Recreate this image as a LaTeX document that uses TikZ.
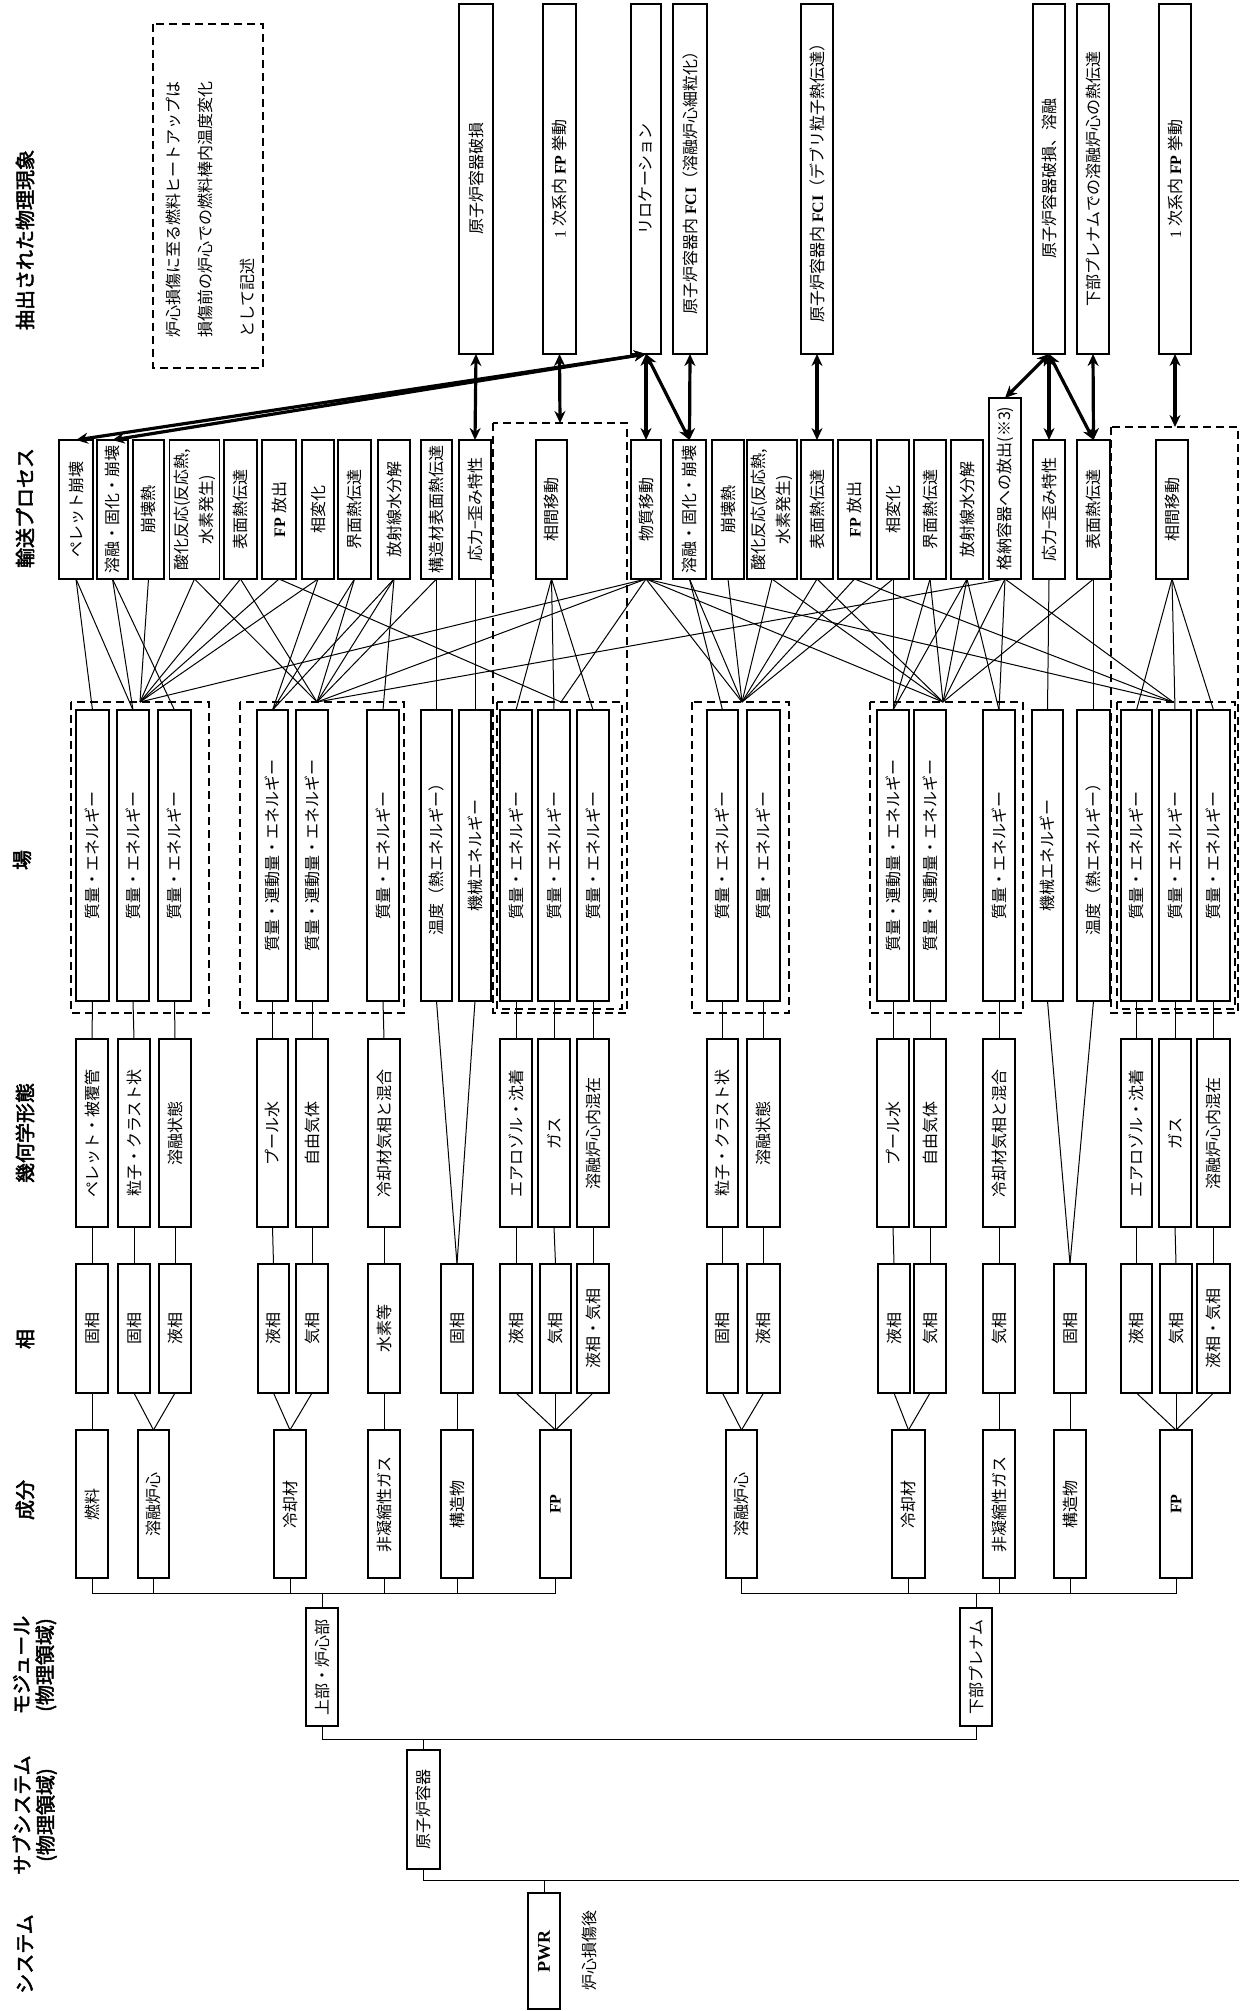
\documentclass[tikz,border=0pt]{standalone}
\usepackage{fontspec}
\setmainfont{Noto Sans CJK JP}[AutoFakeBold=2.5]
\newfontfamily\lat{Liberation Serif}
\usepackage{graphicx}
\usetikzlibrary{arrows.meta}
\newcommand\bx[6]{\node[bx, minimum width={(#3-#2)*0.5pt}, minimum height={(#5-#4)*0.5pt}] (#1) at ({(#2+#3)/2},{(#4+#5)/2}) {\rotatebox{90}{#6}};}
\newcommand\two[2]{\begin{tabular}{@{}c@{}}#1\\#2\end{tabular}}
\newcommand\LB[1]{{\lat\bfseries #1}}
\begin{document}
\begin{tikzpicture}[x=0.5pt,y=-0.5pt,
 bx/.style={draw, line width=0.6pt, inner sep=0pt, outer sep=0pt, fill=white, font=\fontsize{8}{12.5}\selectfont},
 hd/.style={inner sep=0pt, font=\fontsize{10}{11}\selectfont\bfseries},
 txt/.style={inner sep=0pt, font=\fontsize{8}{10}\selectfont},
 ln/.style={line width=0.5pt},
 arr/.style={line width=1.6pt, {Stealth[length=6pt,width=5.5pt]}-{Stealth[length=6pt,width=5.5pt]}},
 grp/.style={draw, line width=0.75pt, dash pattern=on 4pt off 2.5pt}]
\useasboundingbox[fill=white] (0,0) rectangle (1241,2011);

% headers
\node[hd] (h1) at (25,240) {\rotatebox{90}{抽出された物理現象}};
\node[hd] (h2) at (25,508) {\rotatebox{90}{輸送プロセス}};
\node[hd] (h3) at (22,860) {\rotatebox{90}{場}};
\node[hd] (h4) at (25,1133) {\rotatebox{90}{幾何学形態}};
\node[hd] (h5) at (25,1339) {\rotatebox{90}{相}};
\node[hd] (h6) at (25,1500) {\rotatebox{90}{成分}};
\node[hd] (h7) at (36,1665) {\rotatebox{90}{\two{モジュール}{(物理領域)}}};
\node[hd] (h8) at (36,1815) {\rotatebox{90}{\two{サブシステム}{(物理領域)}}};
\node[hd] (h9) at (25,1954) {\rotatebox{90}{システム}};

% note
\draw[grp] (153,24) rectangle (263,368);
\node[txt, anchor=south] (n1) at (173,338) {\rotatebox{90}{炉心損傷に至る燃料ヒートアップは}};
\node[txt, anchor=south] (n2) at (205,338) {\rotatebox{90}{損傷前の炉心での燃料棒内温度変化}};
\node[txt, anchor=south] (n3) at (247,338) {\rotatebox{90}{として記述}};

% dashed groups
\draw[grp] (493,423) rectangle (627,1013);
\draw[grp] (1111,427) rectangle (1238,1013);
\draw[grp] (71,702) rectangle (209,1013);
\draw[grp] (240,702) rectangle (404,1013);
\draw[grp] (497,702) rectangle (622,1009);
\draw[grp] (692,702) rectangle (789,1013);
\draw[grp] (870,702) rectangle (1023,1013);
\draw[grp] (1117,702) rectangle (1235,1009);
\coordinate (gA) at (140,702);
\coordinate (gB) at (317,702);
\coordinate (gC) at (561,702);
\coordinate (gD) at (742,702);
\coordinate (gE) at (943,702);
\coordinate (gF) at (1173,702);
\coordinate (oL) at (560,423);
\coordinate (oR) at (1175,427);

% phenomena
\bx{q1}{459}{493}{4}{354}{原子炉容器破損}
\bx{q2}{543}{576}{4}{354}{{\lat 1} 次系内 \LB{FP} 挙動}
\bx{q3}{631}{661}{4}{354}{リロケーション}
\bx{q4}{673}{707}{4}{354}{原子炉容器内 \LB{FCI}（溶融炉心細粒化）}
\bx{q5}{801}{833}{4}{354}{原子炉容器内 \LB{FCI}（デブリ粒子熱伝達）}
\bx{q6}{1033}{1065}{4}{354}{原子炉容器破損、溶融}
\bx{q7}{1077}{1109}{4}{354}{下部プレナムでの溶融炉心の熱伝達}
\bx{q8}{1159}{1191}{4}{354}{{\lat 1} 次系内 \LB{FP} 挙動}

% processes
\bx{p1}{59}{93}{440}{579}{ペレット崩壊}
\bx{p2}{97}{128}{440}{579}{溶融・固化・崩壊}
\bx{p3}{133}{164}{440}{579}{崩壊熱}
\bx{p4}{171}{218}{440}{579}{\two{酸化反応(反応熱,}{水素発生)}}
\bx{p5}{224}{257}{440}{579}{表面熱伝達}
\bx{p6}{262}{296}{440}{579}{\LB{FP} 放出}
\bx{p7}{302}{334}{440}{579}{相変化}
\bx{p8}{338}{371}{440}{579}{界面熱伝達}
\bx{p9}{378}{410}{440}{579}{放射線水分解}
\bx{p10}{421}{452}{440}{579}{構造材表面熱伝達}
\bx{p11}{459}{491}{440}{579}{応力−歪み特性}
\bx{p12}{536}{567}{440}{579}{相間移動}
\bx{p13}{631}{661}{440}{579}{物質移動}
\bx{p14}{673}{706}{440}{579}{溶融・固化・崩壊}
\bx{p15}{712}{744}{440}{579}{崩壊熱}
\bx{p16}{748}{796}{440}{579}{\two{酸化反応(反応熱,}{水素発生)}}
\bx{p17}{801}{833}{440}{579}{表面熱伝達}
\bx{p18}{838}{871}{440}{579}{\LB{FP} 放出}
\bx{p19}{877}{909}{440}{579}{相変化}
\bx{p20}{914}{946}{440}{579}{界面熱伝達}
\bx{p21}{951}{983}{440}{579}{放射線水分解}
\bx{p22}{989}{1021}{398}{579}{格納容器への放出(※3)}
\bx{p23}{1033}{1065}{440}{579}{応力−歪み特性}
\bx{p24}{1077}{1110}{440}{579}{表面熱伝達}
\bx{p25}{1156}{1188}{440}{579}{相間移動}

% fields
\bx{f1}{76}{109}{710}{1001}{質量・エネルギー}
\bx{f2}{117}{149}{710}{1001}{質量・エネルギー}
\bx{f3}{158}{191}{710}{1001}{質量・エネルギー}
\bx{f4}{257}{288}{710}{1001}{質量・運動量・エネルギー}
\bx{f5}{296}{328}{710}{1001}{質量・運動量・エネルギー}
\bx{f6}{367}{399}{710}{1001}{質量・エネルギー}
\bx{f7}{421}{452}{710}{1001}{温度（熱エネルギー）}
\bx{f8}{459}{491}{710}{1001}{機械エネルギー}
\bx{f9}{500}{532}{710}{1001}{質量・エネルギー}
\bx{f10}{538}{570}{710}{1001}{質量・エネルギー}
\bx{f11}{577}{609}{710}{1001}{質量・エネルギー}
\bx{f12}{707}{738}{710}{1001}{質量・エネルギー}
\bx{f13}{747}{780}{710}{1001}{質量・エネルギー}
\bx{f14}{877}{909}{710}{1001}{質量・運動量・エネルギー}
\bx{f15}{914}{946}{710}{1001}{質量・運動量・エネルギー}
\bx{f16}{983}{1015}{710}{1001}{質量・エネルギー}
\bx{f17}{1032}{1063}{710}{1001}{機械エネルギー}
\bx{f18}{1077}{1110}{710}{1001}{温度（熱エネルギー）}
\bx{f19}{1121}{1152}{710}{1001}{質量・エネルギー}
\bx{f20}{1159}{1191}{710}{1001}{質量・エネルギー}
\bx{f21}{1197}{1230}{710}{1001}{質量・エネルギー}

% geometric forms
\bx{g1}{76}{108}{1039}{1227}{ペレット・被覆管}
\bx{g2}{118}{150}{1039}{1227}{粒子・クラスト状}
\bx{g3}{159}{191}{1039}{1227}{溶融状態}
\bx{g4}{257}{288}{1039}{1227}{プール水}
\bx{g5}{296}{328}{1039}{1227}{自由気体}
\bx{g6}{368}{400}{1039}{1227}{冷却材気相と混合}
\bx{g7}{500}{532}{1039}{1227}{エアロゾル・沈着}
\bx{g8}{538}{570}{1039}{1227}{ガス}
\bx{g9}{577}{609}{1039}{1227}{溶融炉心内混在}
\bx{g10}{707}{738}{1039}{1227}{粒子・クラスト状}
\bx{g11}{747}{780}{1039}{1227}{溶融状態}
\bx{g12}{877}{909}{1039}{1227}{プール水}
\bx{g13}{914}{946}{1039}{1227}{自由気体}
\bx{g14}{983}{1015}{1039}{1227}{冷却材気相と混合}
\bx{g15}{1121}{1152}{1039}{1227}{エアロゾル・沈着}
\bx{g16}{1159}{1191}{1039}{1227}{ガス}
\bx{g17}{1197}{1230}{1039}{1227}{溶融炉心内混在}

% phases
\bx{k1}{76}{108}{1264}{1393}{固相}
\bx{k2}{118}{150}{1264}{1393}{固相}
\bx{k3}{159}{191}{1264}{1393}{液相}
\bx{k4}{258}{289}{1264}{1393}{液相}
\bx{k5}{296}{328}{1264}{1393}{気相}
\bx{k6}{368}{400}{1264}{1393}{水素等}
\bx{k7}{441}{473}{1264}{1393}{固相}
\bx{k8}{500}{532}{1264}{1393}{液相}
\bx{k9}{540}{571}{1264}{1393}{気相}
\bx{k10}{577}{609}{1264}{1393}{液相・気相}
\bx{k11}{707}{738}{1264}{1393}{固相}
\bx{k12}{747}{780}{1264}{1393}{液相}
\bx{k13}{878}{910}{1264}{1393}{液相}
\bx{k14}{914}{946}{1264}{1393}{気相}
\bx{k15}{983}{1015}{1264}{1393}{気相}
\bx{k16}{1054}{1086}{1264}{1393}{固相}
\bx{k17}{1121}{1152}{1264}{1393}{液相}
\bx{k18}{1160}{1192}{1264}{1393}{気相}
\bx{k19}{1197}{1230}{1264}{1393}{液相・気相}

% components
\bx{c1}{76}{108}{1430}{1578}{燃料}
\bx{c2}{138}{169}{1430}{1578}{溶融炉心}
\bx{c3}{274}{306}{1430}{1578}{冷却材}
\bx{c4}{368}{400}{1430}{1578}{非凝縮性ガス}
\bx{c5}{441}{473}{1430}{1578}{構造物}
\bx{c6}{540}{571}{1430}{1578}{\LB{FP}}
\bx{c7}{726}{757}{1430}{1578}{溶融炉心}
\bx{c8}{892}{925}{1430}{1578}{冷却材}
\bx{c9}{983}{1015}{1430}{1578}{非凝縮性ガス}
\bx{c10}{1054}{1086}{1430}{1578}{構造物}
\bx{c11}{1160}{1192}{1430}{1578}{\LB{FP}}

% modules, subsystem, system
\bx{m1}{306}{338}{1608}{1726}{上部・炉心部}
\bx{m2}{960}{992}{1608}{1726}{下部プレナム}
\bx{s1}{407}{440}{1750}{1869}{原子炉容器}
\bx{pwr}{528}{560}{1893}{2009}{\LB{\fontsize{9}{10}\selectfont PWR}}
\node[txt] (lbl) at (589,1950) {\rotatebox{90}{炉心損傷後}};

% buses
\coordinate (b1) at (0,1593);
\coordinate (b2) at (0,1739);
\coordinate (b3end) at (1239,1880);
\draw[ln] (c1.south) -- (c1.south |- b1) -- (c6.south |- b1) -- (c6.south);
\foreach \c in {c2,c3,c4,c5} \draw[ln] (\c.south) -- (\c.south |- b1);
\draw[ln] (c7.south) -- (c7.south |- b1) -- (c11.south |- b1) -- (c11.south);
\foreach \c in {c8,c9,c10} \draw[ln] (\c.south) -- (\c.south |- b1);
\draw[ln] (m1.north) -- (m1.north |- b1);
\draw[ln] (m2.north) -- (m2.north |- b1);
\draw[ln] (m1.south) -- (m1.south |- b2) -- (m2.south |- b2) -- (m2.south);
\draw[ln] (s1.north) -- (s1.north |- b2);
\draw[ln] (s1.south) |- (b3end);
\draw[ln] (pwr.north) -- (pwr.north |- b3end);

% phase -> component
\foreach \a/\b in {k1/c1,k2/c2,k3/c2,k4/c3,k5/c3,k6/c4,k7/c5,k8/c6,k9/c6,k10/c6,k11/c7,k12/c7,k13/c8,k14/c8,k15/c9,k16/c10,k17/c11,k18/c11,k19/c11}
  \draw[ln] (\a.south) -- (\b.north);
% phase -> geometric
\foreach \a/\b in {k1/g1,k2/g2,k3/g3,k4/g4,k5/g5,k6/g6,k8/g7,k9/g8,k10/g9,k11/g10,k12/g11,k13/g12,k14/g13,k15/g14,k17/g15,k18/g16,k19/g17}
  \draw[ln] (\a.north) -- (\b.south);
% geometric -> field
\foreach \a/\b in {g1/f1,g2/f2,g3/f3,g4/f4,g5/f5,g6/f6,g7/f9,g8/f10,g9/f11,g10/f12,g11/f13,g12/f14,g13/f15,g14/f16,g15/f19,g16/f20,g17/f21,k7/f7,k7/f8,k16/f17,k16/f18}
  \draw[ln] (\a.north) -- (\b.south);

% process -> field
\foreach \a/\b in {p1/f1,p1/f2,p2/f2,p2/f3,p7/f4,p8/f4,p9/f4,p9/f6,p10/f7,p11/f8,p12/f9,p12/f10,p12/f11,p14/f12,p19/f14,p20/f14,p21/f14,p21/f16,p22/f16,p23/f17,p24/f18,p25/f19,p25/f20,p25/f21}
  \draw[ln] (\a.south) -- (\b.north);
\foreach \a/\b in {p3/gA,p4/gA,p4/gB,p5/gA,p5/gB,p6/gA,p6/gC,p7/gA,p8/gB,p9/gB,p10/gB,p13/gA,p13/gB,p13/gC,p13/gD,p13/gE,p13/gF,p14/gD,p15/gD,p16/gD,p16/gE,p17/gD,p17/gE,p18/gD,p18/gF,p19/gD,p20/gE,p21/gE,p22/gB,p22/gE,p22/gF,p24/gE}
  \draw[ln] (\a.south) -- (\b);

% phenomena <-> processes
\draw[arr] (q1.south) -- (p11.north);
\draw[arr] (q2.south) -- (oL);
\draw[arr] (q3.south) -- (p13.north);
\draw[arr] (q3.south) -- (p14.north);
\draw[arr] (q4.south) -- (p14.north);
\draw[arr] (q3.south) -- (p1.north);
\draw[arr] (q3.south) -- (p2.north);
\draw[arr] (q5.south) -- (p17.north);
\draw[arr] (q6.south) -- (p22.north);
\draw[arr] (q6.south) -- (p23.north);
\draw[arr] (q6.south) -- (p24.north);
\draw[arr] (q7.south) -- (p24.north);
\draw[arr] (q8.south) -- (oR);
\end{tikzpicture}
\end{document}
